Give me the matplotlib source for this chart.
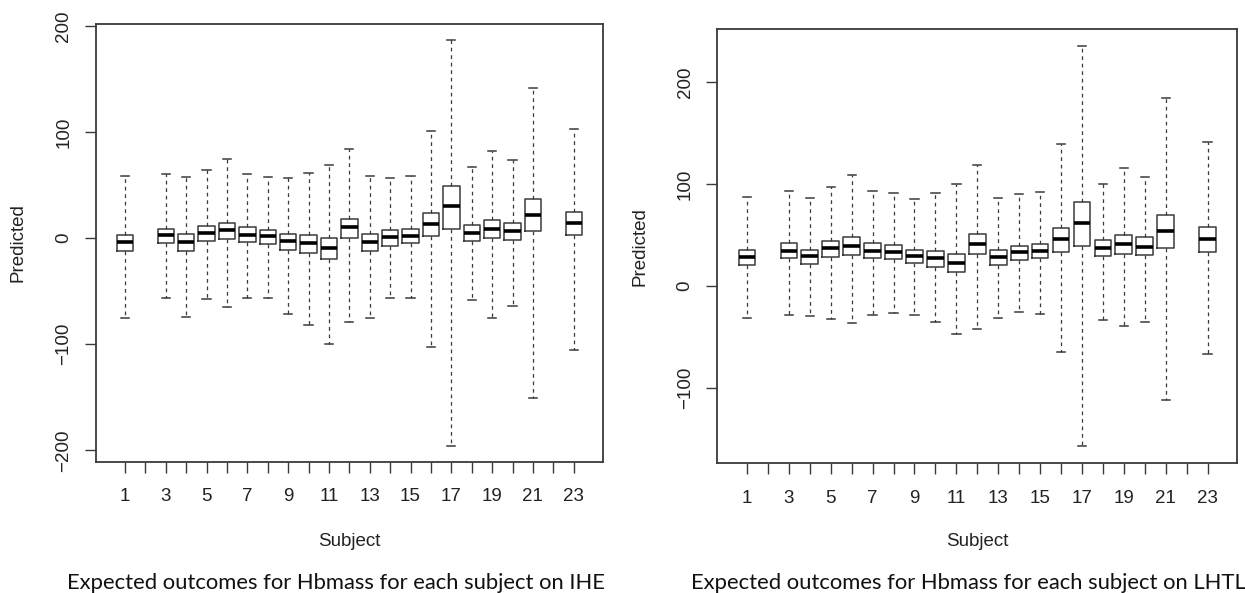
"""
Boxplots of expected Hbmass outcomes per subject for the IHE and LHTL groups.
"""

import matplotlib

matplotlib.use("Agg")

import matplotlib.pyplot as plt

plt.rcParams["font.family"] = ["Liberation Sans", "DejaVu Sans"]

subjects = [1, 3, 4, 5, 6, 7, 8, 9, 10, 11, 12, 13, 14, 15, 16, 17, 18, 19, 20, 21, 23]

# IHE panel
ihe_whislo = [-75, -56, -74, -57, -65, -56, -56, -72, -82, -100, -79, -75, -56, -56,
              -103, -196, -58, -75, -64, -151, -105]
ihe_q1 = [-12, -5, -12, -3, -1, -4, -6, -11, -14, -20, 0, -12, -7, -5, 2, 9, -3, 0,
          -2, 7, 3]
ihe_med = [-4, 2.5, -4, 5, 7.5, 3, 2, -2.5, -5, -9, 10, -4, 1, 2, 13.5, 30, 5, 9, 7,
           21.5, 14]
ihe_q3 = [3, 9, 3.5, 11, 14.5, 10, 8, 4, 2.5, 0.3, 18, 3.5, 7.5, 8.5, 24, 49, 12,
          17.5, 14.5, 36.5, 24.5]
ihe_whishi = [58.5, 60, 58, 64, 74.5, 60, 57.5, 57, 61, 68.5, 84, 58.5, 56.5, 58.5,
              100.5, 187, 67, 82, 74, 141, 103]

# LHTL panel
lhtl_whislo = [-31, -29, -30, -32, -36, -29, -27, -29, -35, -47, -42, -31, -26, -28,
               -65, -157, -33, -39, -35, -112, -67]
lhtl_q1 = [20.5, 27, 21.5, 28.5, 30, 27.5, 26.5, 22, 19, 13.5, 31.5, 21, 25.5, 27,
           33.5, 39.5, 29, 31.5, 30, 37.5, 33.5]
lhtl_med = [28.5, 34.5, 29, 37, 39.5, 34.5, 33.5, 29, 27, 22.5, 41.5, 28.5, 33, 34.5,
            46, 62, 37.5, 41.5, 38.5, 54, 46.5]
lhtl_q3 = [35, 42, 35.5, 44.5, 47.5, 42, 40.5, 35.5, 34, 31, 51, 35, 39.5, 41, 57,
           82.5, 45, 50, 47.5, 70, 58]
lhtl_whishi = [87, 93, 86.5, 97.5, 108.5, 93, 91, 85.5, 91, 100, 118.5, 86.5, 90.5,
               92, 139, 235.5, 99.5, 115.5, 106.5, 184.5, 141]

all_ticks = list(range(1, 24))
x_labels = [str(t) if t % 2 == 1 else "" for t in all_ticks]

ihe_yticks = [-200, -100, 0, 100, 200]
lhtl_yticks = [-100, 0, 100, 200]

EDGE = "#3a3a3a"
TEXT = "#222222"
W, H = 1245, 593


def build_stats(whislo, q1, med, q3, whishi):
    stats = []
    for lo, a, m, b, hi in zip(whislo, q1, med, q3, whishi):
        stats.append({"whislo": lo, "q1": a, "med": m, "q3": b, "whishi": hi,
                      "fliers": []})
    return stats


def draw_panel(ax, stats, ylim, yticks):
    ax.bxp(
        stats,
        positions=subjects,
        widths=0.8,
        capwidths=0.4,
        showfliers=False,
        boxprops={"color": EDGE, "linewidth": 1.1},
        medianprops={"color": "black", "linewidth": 2.6, "solid_capstyle": "butt"},
        whiskerprops={"color": EDGE, "linewidth": 0.9, "linestyle": (0, (3, 3))},
        capprops={"color": EDGE, "linewidth": 1.1},
        manage_ticks=False,
    )
    ax.set_xlim(-0.42, 24.42)
    ax.set_ylim(*ylim)
    ax.set_xticks(all_ticks)
    ax.set_xticklabels(x_labels)
    ax.set_yticks(yticks)
    ax.set_yticklabels([str(v).replace("-", "\u2212") for v in yticks],
                       rotation=90, va="center")
    ax.tick_params(axis="both", direction="out", length=8, width=1.0, color=EDGE,
                   labelsize=13.5, labelcolor=TEXT)
    ax.tick_params(axis="x", pad=11)
    ax.tick_params(axis="y", pad=9)
    for spine in ax.spines.values():
        spine.set_color(EDGE)
        spine.set_linewidth(1.3)


fig = plt.figure(figsize=(W / 100, H / 100), dpi=100, facecolor="white")

ax1 = fig.add_axes([96 / W, 1 - 462 / H, 506.7 / W, 438.3 / H])
draw_panel(ax1, build_stats(ihe_whislo, ihe_q1, ihe_med, ihe_q3, ihe_whishi),
           (-211, 202), ihe_yticks)

ax2 = fig.add_axes([717.3 / W, 1 - 463.3 / H, 520 / W, 434.3 / H])
draw_panel(ax2, build_stats(lhtl_whislo, lhtl_q1, lhtl_med, lhtl_q3, lhtl_whishi),
           (-174, 252), lhtl_yticks)

# axis titles, placed like the R output
for cx, cy_pred in [(349, 243), (977, 246)]:
    fig.text(cx / W, 1 - 542 / H, "Subject", ha="center", va="center",
             fontsize=13.5, color=TEXT)
for px, py in [(18, 243), (640, 247)]:
    fig.text(px / W, 1 - py / H, "Predicted", ha="center", va="center",
             rotation=90, fontsize=13.5, color=TEXT)

caption_font = ["Lato", "DejaVu Sans"]
fig.text(336 / W, 1 - 583 / H, "Expected outcomes for Hbmass for each subject on IHE",
         ha="center", va="center", fontsize=15.8, family=caption_font, color="#111111")
fig.text(968 / W, 1 - 583 / H, "Expected outcomes for Hbmass for each subject on LHTL",
         ha="center", va="center", fontsize=15.8, family=caption_font, color="#111111")

fig.savefig("out.png", dpi=100, facecolor="white")
